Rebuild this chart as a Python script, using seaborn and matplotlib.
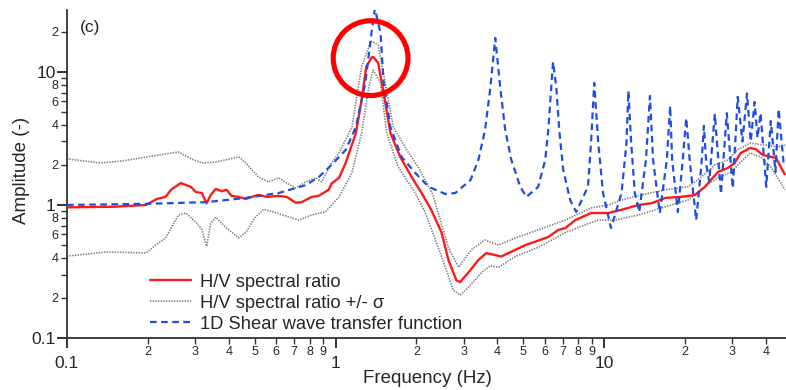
import numpy as np
import pandas as pd
import seaborn as sns
import matplotlib
matplotlib.use("Agg")
import matplotlib.pyplot as plt
from matplotlib.ticker import FixedLocator, FixedFormatter

# ---------------- data ----------------
hv_f = [0.1, 0.15, 0.197, 0.216, 0.233, 0.244, 0.265, 0.289, 0.302, 0.318, 0.331, 0.343,
        0.358, 0.377, 0.393, 0.41, 0.436, 0.463, 0.487, 0.517, 0.554, 0.614, 0.658, 0.71,
        0.748, 0.814, 0.865, 0.942, 0.966, 1.03, 1.09, 1.19, 1.25, 1.30, 1.36, 1.38, 1.44,
        1.51, 1.60, 1.74, 1.92, 2.09, 2.27, 2.48, 2.63, 2.82, 2.91, 3.12, 3.4, 3.64, 3.93,
        4.14, 4.67, 5.09, 5.54, 6.19, 6.75, 7.16, 7.8, 8.93, 10.35, 11.6, 13.4, 15.0, 16.9,
        19.3, 21.8, 23.7, 26.5, 28.9, 30.6, 32.2, 34.9, 36.6, 38.9, 41.7, 43.6, 45.6, 47.0]
hv_a = [0.96, 0.97, 1.0, 1.11, 1.15, 1.30, 1.46, 1.37, 1.25, 1.23, 1.03, 1.19,
        1.32, 1.27, 1.30, 1.17, 1.15, 1.11, 1.15, 1.19, 1.15, 1.17, 1.15, 1.04,
        1.05, 1.15, 1.17, 1.30, 1.45, 1.6, 2.07, 3.47, 6.16, 10.9, 12.8, 13.0, 11.7,
        6.95, 3.47, 2.3, 1.62, 1.23, 0.92, 0.62, 0.386, 0.27, 0.264, 0.31, 0.386, 0.435, 0.42,
        0.41, 0.46, 0.50, 0.53, 0.575, 0.65, 0.67, 0.77, 0.87, 0.87, 0.92, 1.0, 1.03, 1.13,
        1.15, 1.19, 1.37, 1.77, 1.9, 2.07, 2.46, 2.68, 2.63, 2.38, 2.3, 2.26, 1.9, 1.7]

up_f = [0.1, 0.1325, 0.16, 0.233, 0.26, 0.29, 0.318, 0.358, 0.436, 0.463, 0.517, 0.563,
        0.614, 0.658, 0.71, 0.774, 0.843, 0.887, 0.966, 1.03, 1.15, 1.25, 1.35, 1.37, 1.44,
        1.53, 1.64, 1.84, 2.03, 2.3, 2.63, 2.87, 3.2, 3.6, 4.04, 4.67, 5.68, 7.16, 8.93,
        10.35, 11.6, 13.7, 16.9, 20.5, 23.0, 25.8, 28.9, 31.4, 34.9, 39.6, 44.3, 47.0]
up_a = [2.22, 2.07, 2.14, 2.42, 2.5, 2.22, 2.07, 2.1, 2.3, 2.07, 1.62, 1.49,
        1.6, 1.46, 1.34, 1.49, 1.6, 1.49, 2.07, 2.46, 3.85, 10.9, 16.8, 17.0, 15.9,
        8.27, 3.85, 2.59, 1.93, 1.2, 0.48, 0.34, 0.46, 0.545, 0.5, 0.565, 0.65, 0.77, 0.95,
        1.0, 1.09, 1.19, 1.3, 1.37, 1.62, 2.0, 2.18, 2.6, 2.92, 2.82, 2.73, 2.82]

lo_f = [0.1, 0.14, 0.197, 0.214, 0.233, 0.26, 0.277, 0.29, 0.304, 0.318, 0.331, 0.343,
        0.358, 0.39, 0.436, 0.463, 0.5, 0.54, 0.614, 0.73, 0.814, 0.918, 1.03, 1.15, 1.25,
        1.33, 1.38, 1.47, 1.55, 1.71, 1.98, 2.16, 2.48, 2.74, 2.91, 3.12, 3.49, 3.77, 4.04,
        4.67, 5.68, 7.16, 8.5, 9.5, 11.0, 13.4, 16.9, 20.5, 23.7, 26.5, 29.6, 32.2, 34.9,
        38.2, 41.7, 45.5, 47.0]
lo_a = [0.413, 0.443, 0.436, 0.5, 0.565, 0.84, 0.87, 0.8, 0.73, 0.65, 0.49, 0.73,
        0.81, 0.68, 0.565, 0.62, 0.8, 0.93, 0.86, 0.77, 0.84, 0.89, 1.15, 1.74, 3.47,
        7.7, 10.3, 8.27, 3.47, 1.93, 1.23, 0.87, 0.41, 0.23, 0.21, 0.24, 0.31, 0.35, 0.34,
        0.41, 0.48, 0.62, 0.71, 0.77, 0.77, 0.84, 0.97, 1.09, 1.37, 1.6, 1.77, 2.1, 2.46,
        2.3, 1.93, 1.46, 1.3]

tf_f = [0.1, 0.197, 0.33, 0.463, 0.614, 0.774, 0.865, 0.966, 1.09, 1.19, 1.29, 1.36, 1.40,
        1.47, 1.51, 1.60, 1.76, 1.98, 2.22, 2.56, 2.79, 3.18, 3.4, 3.6, 3.77, 3.93, 4.1, 4.28,
        4.51, 4.87, 5.13, 5.68, 6.03, 6.19, 6.35, 6.45, 6.63, 6.8, 7.04, 7.47, 7.86,
        8.7, 8.93, 9.18, 9.5, 9.9, 10.6, 11.6, 12.1, 12.3, 12.6, 13.0, 13.5,
        14.3, 14.8, 15.2, 16.1, 17.1, 17.6, 17.9, 18.8, 19.6, 20.2, 20.8, 22.0,
        23.0, 23.5, 24.0, 24.6, 25.8, 27.2, 28.6, 30.1, 31.4, 32.7, 34.0, 35.1, 36.3, 37.2,
        38.2, 40.1, 41.7, 43.4, 44.6, 46.6]
tf_a = [1.0, 1.02, 1.05, 1.13, 1.23, 1.41, 1.62, 2.0, 2.59, 3.85, 8.27, 19.6, 30.0,
        19.6, 8.27, 3.85, 2.3, 1.74, 1.37, 1.21, 1.23, 1.54, 2.18, 3.66, 7.7, 18.0, 7.7, 3.66,
        2.18, 1.37, 1.15, 1.37, 2.18, 3.66, 7.7, 11.9, 7.7, 3.66, 1.83, 1.09, 0.886,
        1.37, 2.92, 8.27, 2.92, 1.23, 0.67, 1.23, 2.92, 7.2, 2.92, 1.23, 0.886,
        2.18, 6.6, 2.18, 0.87, 2.18, 5.55, 2.18, 0.886, 2.18, 4.5, 2.18, 0.77,
        2.0, 3.93, 2.0, 1.5, 4.83, 1.21, 4.9, 1.34, 6.5, 3.0, 6.9, 3.0, 5.95, 3.2,
        4.9, 1.37, 4.28, 1.77, 5.27, 2.0]

x_major = [0.1, 1, 10]
x_major_labels = ["0.1", "1", "10"]
y_major = [0.1, 1, 10]
y_major_labels = ["0.1", "1", "10"]

legend_labels = ["H/V spectral ratio", "H/V spectral ratio +/- σ",
                 "1D Shear wave transfer function"]
panel_label = "(c)"
# highlighted resonance (centre of red circle)
highlight_f = [1.35]
highlight_a = [12.7]

# ---------------- plotting ----------------
sns.set_style("ticks")
plt.rcParams["font.family"] = ["Liberation Sans", "DejaVu Sans"]

fig = plt.figure(figsize=(7.86, 3.90), dpi=100)
ax = fig.add_axes([0.0852, 0.1333, 0.9148, 0.8410])

red = "#ff1a1a"
gray = "#7a7a7a"
blue = "#1f4fe0"

df_hv = pd.DataFrame({"f": hv_f, "a": hv_a})
df_up = pd.DataFrame({"f": up_f, "a": up_a})
df_lo = pd.DataFrame({"f": lo_f, "a": lo_a})
df_tf = pd.DataFrame({"f": tf_f, "a": tf_a})

sns.lineplot(data=df_up, x="f", y="a", ax=ax, color=gray, lw=1.2, linestyle=":",
             estimator=None, sort=False, zorder=2)
sns.lineplot(data=df_lo, x="f", y="a", ax=ax, color=gray, lw=1.2, linestyle=":",
             estimator=None, sort=False, zorder=2)
sns.lineplot(data=df_hv, x="f", y="a", ax=ax, color=red, lw=1.7,
             estimator=None, sort=False, zorder=3)
sns.lineplot(data=df_tf, x="f", y="a", ax=ax, color=blue, lw=1.6,
             estimator=None, sort=False, zorder=4)
lines = ax.get_lines()
lines[0].set_dashes([0.8, 0.8])
lines[1].set_dashes([0.8, 0.8])
lines[3].set_dashes([3, 2])

ax.scatter(highlight_f, highlight_a, s=2900, facecolors="none", edgecolors="#ff0000",
           linewidths=3.7, zorder=6, clip_on=False)

ax.set_xscale("log")
ax.set_yscale("log")
ax.set_xlim(0.1, 47.5)
ax.set_ylim(0.1, 29.2)

# major ticks
ax.xaxis.set_major_locator(FixedLocator(x_major))
ax.xaxis.set_major_formatter(FixedFormatter(x_major_labels))
ax.yaxis.set_major_locator(FixedLocator(y_major))
ax.yaxis.set_major_formatter(FixedFormatter(y_major_labels))

# minor ticks
xm, xml = [], []
for d in (0.1, 1, 10):
    for k in range(2, 10):
        v = k * d
        if v < 47.5:
            xm.append(v)
            xml.append(str(k))
ax.xaxis.set_minor_locator(FixedLocator(xm))
ax.xaxis.set_minor_formatter(FixedFormatter(xml))

ym, yml = [], []
for d in (0.1, 1, 10):
    for k in range(2, 10):
        v = k * d
        if v < 29.2:
            ym.append(v)
            yml.append(str(k) if k % 2 == 0 else "")
ax.yaxis.set_minor_locator(FixedLocator(ym))
ax.yaxis.set_minor_formatter(FixedFormatter(yml))

ax.tick_params(which="major", length=7, width=1.4, labelsize=12.5, color="#333333")
ax.tick_params(which="minor", length=4, width=1.0, labelsize=9, color="#333333")
ax.tick_params(axis="x", which="major", pad=6)
ax.tick_params(axis="x", which="minor", pad=1.5)
ax.tick_params(axis="y", which="major", pad=1)
ax.tick_params(axis="y", which="minor", pad=2)

for s in ("top", "right"):
    ax.spines[s].set_visible(False)
for s in ("left", "bottom"):
    ax.spines[s].set_linewidth(1.3)
    ax.spines[s].set_color("#333333")

ax.set_xlabel("Frequency (Hz)", fontsize=13.5)
ax.set_ylabel("Amplitude (-)", fontsize=13.5)
ax.xaxis.set_label_coords(0.502, -0.122)
ax.xaxis.label.set_va("center")
ax.yaxis.set_label_coords(-0.0626, 0.512)
ax.yaxis.label.set_va("center")

ax.text(0.018, 0.948, panel_label, transform=ax.transAxes, fontsize=12.5,
        ha="left", va="center")

handles = [lines[2], lines[0], lines[3]]
ax.legend(handles, legend_labels, loc="upper left", bbox_to_anchor=(0.098, 0.235),
          frameon=False, fontsize=13.2, handlelength=2.2, handletextpad=0.5,
          labelspacing=0.22, borderpad=0.2)

fig.savefig("out.png", dpi=100)
